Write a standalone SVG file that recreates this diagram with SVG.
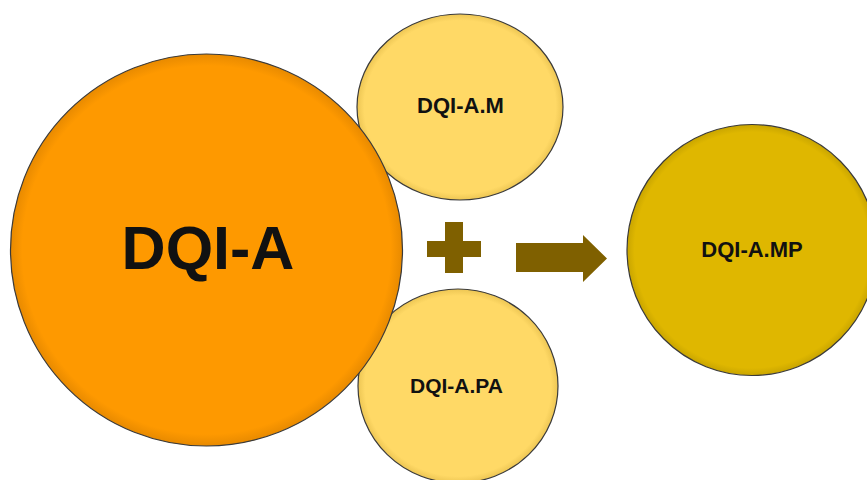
<svg xmlns="http://www.w3.org/2000/svg" width="867" height="480" viewBox="0 0 867 480">
  <style>
    .node { stroke: #3a3a3a; stroke-width: 1.2; }
    .label { font-family: "Liberation Sans", Arial, sans-serif; font-weight: bold; fill: #111111; text-anchor: middle; }
    .sym { fill: #7F6000; }
  </style>
  <defs>
    <radialGradient id="gOrange" cx="50%" cy="50%" r="50%">
      <stop offset="0.94" stop-color="#FE9900"/>
      <stop offset="1" stop-color="#E88A00"/>
    </radialGradient>
    <radialGradient id="gLight" cx="50%" cy="50%" r="50%">
      <stop offset="0.93" stop-color="#FFD966"/>
      <stop offset="1" stop-color="#EDC654"/>
    </radialGradient>
    <radialGradient id="gGold" cx="50%" cy="50%" r="50%">
      <stop offset="0.94" stop-color="#DFB700"/>
      <stop offset="1" stop-color="#C9A500"/>
    </radialGradient>
  </defs>
  <rect width="867" height="480" fill="#ffffff"/>

  <g id="node-dqi-a-m">
    <ellipse class="node" cx="460" cy="107" rx="103" ry="93" fill="url(#gLight)"/>
    <text class="label" x="460.5" y="113" font-size="22">DQI-A.M</text>
  </g>
  <g id="node-dqi-a-pa">
    <ellipse class="node" cx="458" cy="386" rx="100" ry="97" fill="url(#gLight)"/>
    <text class="label" x="456.5" y="393" font-size="21">DQI-A.PA</text>
  </g>
  <g id="node-dqi-a">
    <circle class="node" cx="206.5" cy="250" r="196" fill="url(#gOrange)"/>
    <text class="label" x="208" y="269" font-size="61">DQI-A</text>
  </g>
  <g id="node-dqi-a-mp">
    <ellipse class="node" cx="752" cy="250" rx="125" ry="125.5" fill="url(#gGold)"/>
    <text class="label" x="752" y="257" font-size="22">DQI-A.MP</text>
  </g>

  <g id="connectors">
    <path class="sym" d="M445,222 H463 V241 H481 V257 H463 V273 H445 V257 H427 V241 H445 Z"/>
    <path class="sym" d="M516,243 H583 V235 L607,258.5 L583,282 V272 H516 Z"/>
  </g>
</svg>
